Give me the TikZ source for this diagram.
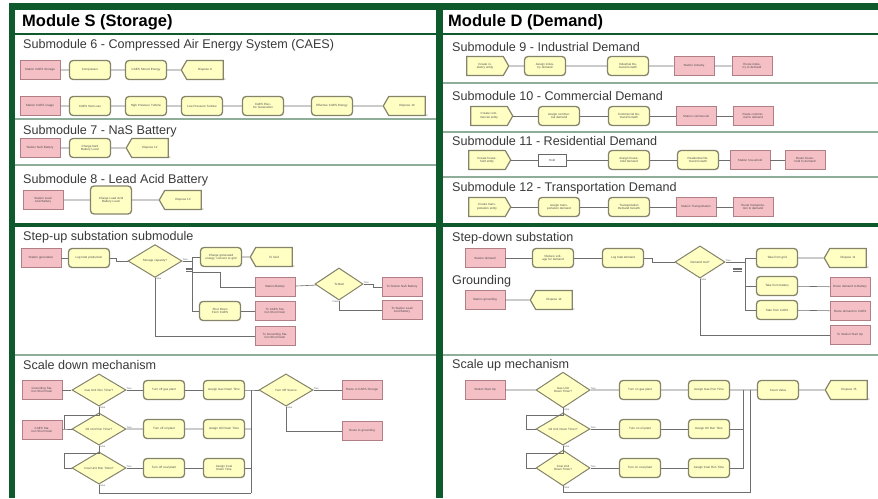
\documentclass[tikz,border=0pt]{standalone}
\usepackage{fontspec}
\setmainfont{Liberation Sans}
\usetikzlibrary{shapes.geometric,shapes.symbols}
\definecolor{frame}{HTML}{0E5A2C}
\definecolor{sep}{HTML}{8EAE9A}
\definecolor{pinkf}{HTML}{F5BFC6}
\definecolor{pinkd}{HTML}{B07F85}
\definecolor{yelf}{HTML}{FFFFC4}
\definecolor{yeld}{HTML}{85836A}
\definecolor{wire}{HTML}{6E6E6E}
\definecolor{ttl}{HTML}{3A3A3A}
\tikzset{
 wire/.style={draw=wire, line width=0.6pt},
 tx/.style={font=\fontsize{3}{3.5}\selectfont, text=black!70, align=center, inner sep=1pt},
 pinkbox/.style={tx, rectangle, fill=pinkf, draw=pinkd, line width=0.6pt, minimum width=40pt, minimum height=19pt, text width=34pt},
 procbox/.style={tx, rectangle, rounded corners=3.5pt, fill=yelf, draw=yeld, line width=1.3pt, minimum width=41pt, minimum height=19pt, text width=32pt},
 dispbox/.style={tx, signal, signal to=west, signal pointer angle=120, fill=yelf, draw=yeld, line width=1.2pt, minimum width=42pt, minimum height=19pt, text width=28pt},
 createbox/.style={tx, signal, signal to=east, signal pointer angle=120, fill=yelf, draw=yeld, line width=1.2pt, minimum width=42pt, minimum height=19pt, text width=28pt},
 decide/.style={tx, diamond, fill=yelf, draw=yeld, line width=1pt, minimum width=54pt, minimum height=30pt, inner sep=0pt, text width=30pt},
 plainbox/.style={tx, rectangle, fill=white, draw=black!60, line width=0.6pt, minimum width=28pt, minimum height=12pt},
 subtitle/.style={anchor=west, font=\fontsize{12.6}{13}\selectfont, text=ttl, inner sep=0pt},
 modtitle/.style={anchor=west, font=\fontsize{16.5}{16.5}\selectfont\bfseries, text=black, inner sep=0pt},
 cnt/.style={font=\fontsize{2.5}{3}\selectfont, text=black!60, inner sep=0pt},
}
\begin{document}
\begin{tikzpicture}[x=1pt,y=-1pt]
\useasboundingbox (0,0) rectangle (878,498);
\fill[white] (0,0) rectangle (878,498);
\fill[frame] (9,3) rectangle (878,498);
\fill[white] (15,10) rectangle (436,498);
\fill[white] (443,10) rectangle (878,498);
% header separators
\draw[frame, line width=1.8pt] (15,34) -- (436,34);
\draw[frame, line width=1.8pt] (443,34) -- (878,34);
% thin separators
\foreach \yy in {119,165,355} \draw[sep, line width=1.5pt] (15,\yy) -- (436,\yy);
\foreach \yy in {83,132,177,355} \draw[sep, line width=1.5pt] (443,\yy) -- (878,\yy);
\draw[frame, line width=3.5pt] (15,225) -- (436,225);
\draw[frame, line width=3.5pt] (443,225) -- (878,225);

% titles
\node[modtitle] (mS) at (22,22) {Module S (Storage)};
\node[modtitle] (mD) at (448,22) {Module D (Demand)};
\node[subtitle] (t6) at (23,45) {Submodule 6 - Compressed Air Energy System (CAES)};
\node[subtitle] (t7) at (23,131) {Submodule 7 - NaS Battery};
\node[subtitle] (t8) at (23,180) {Submodule 8 - Lead Acid Battery};
\node[subtitle] (tsu) at (23,237) {Step-up substation submodule};
\node[subtitle] (tsd) at (23,365) {Scale down mechanism};
\node[subtitle] (t9) at (452,47) {Submodule 9 - Industrial Demand};
\node[subtitle] (t10) at (452,96) {Submodule 10 - Commercial Demand};
\node[subtitle] (t11) at (452,141) {Submodule 11 - Residential Demand};
\node[subtitle] (t12) at (452,188) {Submodule 12 - Transportation Demand};
\node[subtitle] (tsdn) at (452,238) {Step-down substation};
\node[subtitle] (tg) at (452,281) {Grounding};
\node[subtitle] (tsup) at (452,365) {Scale up mechanism};

% ---------- Submodule 6
\node[pinkbox] (s6a) at (40,70) {Station CAES Storage};
\node[procbox] (s6b) at (90,70) {Compressor};
\node[procbox] (s6c) at (146,70) {CAES Stored Energy};
\node[dispbox] (s6d) at (205,70) {Dispose 9};
\node[pinkbox] (s6e) at (40,106) {Station CAES Usage};
\node[procbox] (s6f) at (90,106) {CAES Stat Loss};
\node[procbox] (s6g) at (146,106) {High Pressure Turbine};
\node[procbox] (s6h) at (202,106) {Low Pressure Turbine};
\node[procbox] (s6i) at (263,106) {CAES Electric Generation};
\node[procbox] (s6j) at (332,106) {Effective CAES Energy};
\node[dispbox] (s6k) at (407,106) {Dispose 10};
\draw[wire] (s6a) -- (s6b) -- (s6c) -- (s6d);
\draw[wire] (s6e) -- (s6f) -- (s6g) -- (s6h) -- (s6i) -- (s6j) -- (s6k);
\node[cnt, anchor=north west] at (s6d.south east) {0};
\node[cnt, anchor=north west] at (s6k.south east) {0};

% ---------- Submodule 7
\node[pinkbox] (s7a) at (40,148) {Station NaS Battery};
\node[procbox] (s7b) at (90,148) {Charge NaS Battery Level};
\node[dispbox] (s7c) at (150,148) {Dispose 12};
\draw[wire] (s7a) -- (s7b) -- (s7c);
\node[cnt, anchor=north west] at (s7c.south east) {0};

% ---------- Submodule 8
\node[pinkbox] (s8a) at (43,200) {Station Lead Acid Battery};
\node[procbox, minimum height=28pt] (s8b) at (111,200) {Charge Lead Acid Battery Level};
\node[dispbox] (s8c) at (183,200) {Dispose 13};
\draw[wire] (s8a) -- (s8b) -- (s8c);
\node[cnt, anchor=north west] at (s8c.south east) {0};

% ---------- Step-up substation
\node[pinkbox] (su1) at (41,258) {Station generation};
\node[procbox] (su2) at (89,258) {Log total production};
\node[decide] (su3) at (155,261) {Storage capacity?};
\node[procbox] (su4) at (221,257) {Charge generated energy; connect to grid};
\node[dispbox] (su5) at (274,257) {To Grid};
\node[pinkbox] (su6) at (275,287) {Station Battery};
\node[decide, minimum width=48pt, minimum height=28pt] (su7) at (339,284) {To Batt};
\node[pinkbox] (su8) at (402,287) {To Station NaS Battery};
\node[pinkbox] (su9) at (402,310) {To Station Lead Acid Battery};
\node[procbox] (su10) at (220,311) {Shut Down From CAES};
\node[pinkbox] (su11) at (275,311) {To CAES Station Shut Down};
\node[pinkbox] (su12) at (275,336) {To Grounding Station Shut Down};
\coordinate (sub) at (192,261);
\coordinate (sj) at (192,272);
\coordinate (sk) at (220,272);
\draw[wire] (su1) -- (su2);
\draw[wire] (su2.east) -- ++(6,0) |- (su3.west);
\draw[wire] (su3.east) -- (sub) |- (su4.west);
\draw[wire] (sub) |- (su10.west);
\draw[wire] (sj) -- (sk) |- (su6.west);
\foreach \dy in {0,1.5,3} \draw[wire, line width=0.5pt] (186,268+\dy) -- (193,268+\dy);
\draw[wire] (su4) -- (su5);
\draw[wire] (su3.south) |- (su12.west);
\draw[wire] (su6) -- (su7);
\draw[wire] (su7.east) -- ++(10,0) |- (su8.west);
\draw[wire] (su7.south) |- (su9.west);
\draw[wire] (su10) -- (su11);
\node[cnt, anchor=south west] at (su3.east) {True};
\node[cnt, anchor=north west] at (su3.south) {False};
\node[cnt, anchor=south west] at (su7.east) {True};
\node[cnt, anchor=north east] at (su7.south) {False};
\node[cnt, anchor=north west] at (su5.south east) {0};

% ---------- Scale down mechanism
\node[pinkbox] (sd1) at (42,390) {Grounding Station Shut Down};
\node[decide] (sd2) at (99,390) {Gas Unit Run Timer?};
\node[procbox] (sd3) at (164,390) {Turn off gas plant};
\node[procbox] (sd4) at (224,390) {Assign Gas Down Time};
\node[decide] (sd5) at (286,390) {Turn Off Source};
\node[pinkbox] (sd6) at (362,390) {Route to CAES Storage};
\node[pinkbox] (sd7) at (362,431) {Route to grounding};
\node[pinkbox] (sd8) at (42,430) {CAES Station Shut Down};
\node[decide] (sd9) at (99,429) {Oil Unit Run Timer?};
\node[procbox] (sd10) at (164,429) {Turn off oil plant};
\node[procbox] (sd11) at (224,429) {Assign Oil Down Time};
\node[decide] (sd12) at (99,468) {Coal Unit Run Timer?};
\node[procbox] (sd13) at (164,468) {Turn off coal plant};
\node[procbox] (sd14) at (224,468) {Assign Coal Down Time};
\coordinate (j1) at (64,429);
\coordinate (j2) at (64,468);
\coordinate (bsd1) at (251,390);
\coordinate (bsd2) at (251,429);
\coordinate (bsd3) at (251,468);
\coordinate (bsd4) at (251,493);
\draw[wire] (sd1) -- (sd2) -- (sd3) -- (sd4) -- (bsd1) -- (sd5);
\draw[wire] (sd5) -- (sd6);
\draw[wire] (sd5.south) |- (sd7.west);
\draw[wire] (sd8) -- (sd9) -- (sd10) -- (sd11) -- (bsd2);
\draw[wire] (sd12) -- (sd13) -- (sd14) -- (bsd3);
\draw[wire] (bsd1) -- (bsd4);
\draw[wire] (sd2.south) -- ++(0,9) -| (j1);
\draw[wire] (sd9.south) -- ++(0,8) -| (j2) -- (sd12.west);
\draw[wire] (sd12.south) |- (bsd4);
\foreach \n in {sd2,sd5,sd9,sd12} {
  \node[cnt, anchor=south west] at (\n.east) {True};
  \node[cnt, anchor=north west] at (\n.south) {False};
}

% ---------- Submodule 9
\node[createbox] (d9a) at (485,66) {Create industry entity};
\node[procbox] (d9b) at (545,66) {Assign industry demand};
\node[procbox] (d9c) at (628,66) {Industrial Demand Growth};
\node[pinkbox] (d9d) at (694,66) {Station industry};
\node[pinkbox] (d9e) at (752,66) {Route industry to demand};
\draw[wire] (d9a) -- (d9b) -- (d9c) -- (d9d) -- (d9e);

% ---------- Submodule 10
\node[createbox] (d10a) at (489,116) {Create commercial entity};
\node[procbox] (d10b) at (559,116) {Assign commercial demand};
\node[procbox] (d10c) at (629,116) {Commercial Demand Growth};
\node[pinkbox] (d10d) at (696,116) {Station commercial};
\node[pinkbox] (d10e) at (753,116) {Route commercial to demand};
\draw[wire] (d10a) -- (d10b) -- (d10c) -- (d10d) -- (d10e);

% ---------- Submodule 11
\node[createbox] (d11a) at (487,160) {Create household entity};
\node[plainbox] (d11b) at (552,160) {Hold};
\node[procbox] (d11c) at (629,160) {Assign household demand};
\node[procbox] (d11d) at (698,160) {Residential Demand Growth};
\node[pinkbox] (d11e) at (750,160) {Station household};
\node[pinkbox] (d11f) at (805,160) {Route household to demand};
\draw[wire] (d11a) -- (d11b) -- (d11c) -- (d11d) -- (d11e) -- (d11f);

% ---------- Submodule 12
\node[createbox] (d12a) at (487,207) {Create transportation entity};
\node[procbox] (d12b) at (559,207) {Assign transportation demand};
\node[procbox] (d12c) at (629,207) {Transportation Demand Growth};
\node[pinkbox] (d12d) at (696,207) {Station Transportation};
\node[pinkbox] (d12e) at (753,207) {Route transportation to demand};
\draw[wire] (d12a) -- (d12b) -- (d12c) -- (d12d) -- (d12e);

% ---------- Step-down substation
\node[pinkbox] (dn1) at (485,258) {Station demand};
\node[procbox] (dn2) at (553,258) {Reduce voltage for demand};
\node[procbox] (dn3) at (623,258) {Log total demand};
\node[decide, minimum width=50pt] (dn4) at (700,262) {Demand met?};
\node[procbox] (dn5) at (777,258) {Take from grid};
\node[dispbox] (dn6) at (848,258) {Dispose 11};
\node[procbox] (dn7) at (777,286) {Take from battery};
\node[pinkbox] (dn8) at (850,287) {Route demand to Battery};
\node[procbox] (dn9) at (777,310) {Take from CAES};
\node[pinkbox] (dn10) at (850,311) {Route demand to CAES};
\node[pinkbox] (dn11) at (850,335) {To Station Start Up};
\coordinate (bd) at (745,262);
\coordinate (bd2) at (745,286);
\draw[wire] (dn1) -- (dn2) -- (dn3);
\draw[wire] (dn3.east) -- ++(8,0) |- (dn4.west);
\draw[wire] (dn4.east) -- (bd) |- (dn5.west);
\draw[wire] (bd) |- (dn9.west);
\draw[wire] (bd2) -- (dn7.west);
\foreach \dy in {0,1.5,3} \draw[wire, line width=0.5pt] (733,268+\dy) -- (742,268+\dy);
\draw[wire] (dn5) -- (dn6);
\draw[wire] (dn7) -- (dn8);
\draw[wire] (dn9) -- (dn10);
\draw[wire] (dn4.south) |- (dn11.west);
\node[cnt, anchor=north west] at (dn6.south east) {0};
\node[cnt, anchor=south west] at (dn4.east) {True};
\node[cnt, anchor=north west] at (dn4.south) {False};

% ---------- Grounding
\node[pinkbox] (g1) at (485,300) {Station grounding};
\node[dispbox] (g2) at (554,300) {Dispose 14};
\draw[wire] (g1) -- (g2);
\node[cnt, anchor=north west] at (g2.south east) {0};

% ---------- Scale up mechanism
\node[pinkbox] (u1) at (485,390) {Station Start Up};
\node[decide] (u2) at (563,390) {Gas Unit Down Timer?};
\node[procbox] (u3) at (640,390) {Turn on gas plant};
\node[procbox] (u4) at (709,390) {Assign Gas Run Time};
\node[procbox] (u5) at (778,390) {Count Value};
\node[dispbox] (u6) at (849,390) {Dispose 15};
\node[decide] (u7) at (563,429) {Oil Unit Down Timer?};
\node[procbox] (u8) at (640,429) {Turn on oil plant};
\node[procbox] (u9) at (709,429) {Assign Oil Run Time};
\node[decide] (u10) at (563,468) {Coal Unit Down Timer?};
\node[procbox] (u11) at (640,468) {Turn on coal plant};
\node[procbox] (u12) at (709,468) {Assign Coal Run Time};
\coordinate (uj1) at (526,429);
\coordinate (uj2) at (526,468);
\coordinate (ub1) at (750,390);
\coordinate (ub4) at (750,492);
\coordinate (uc1) at (743,390);
\coordinate (uc3) at (743,468);
\draw[wire] (u1) -- (u2) -- (u3) -- (u4) -- (ub1) -- (u5) -- (u6);
\draw[wire] (u7) -- (u8) -- (u9) -- (u9 -| uc1);
\draw[wire] (u10) -- (u11) -- (u12) -- (uc3) -- (uc1);
\draw[wire] (u2.south) -- ++(0,7) -| (uj1) -- (u7.west);
\draw[wire] (u7.south) -- ++(0,8) -| (uj2) -- (u10.west);
\draw[wire] (u10.south) |- (ub4) -- (ub1);
\node[cnt, anchor=north west] at (u6.south east) {0};
\foreach \n in {u2,u7,u10} {
  \node[cnt, anchor=south west] at (\n.east) {True};
  \node[cnt, anchor=north west] at (\n.south) {False};
}
\end{tikzpicture}
\end{document}
